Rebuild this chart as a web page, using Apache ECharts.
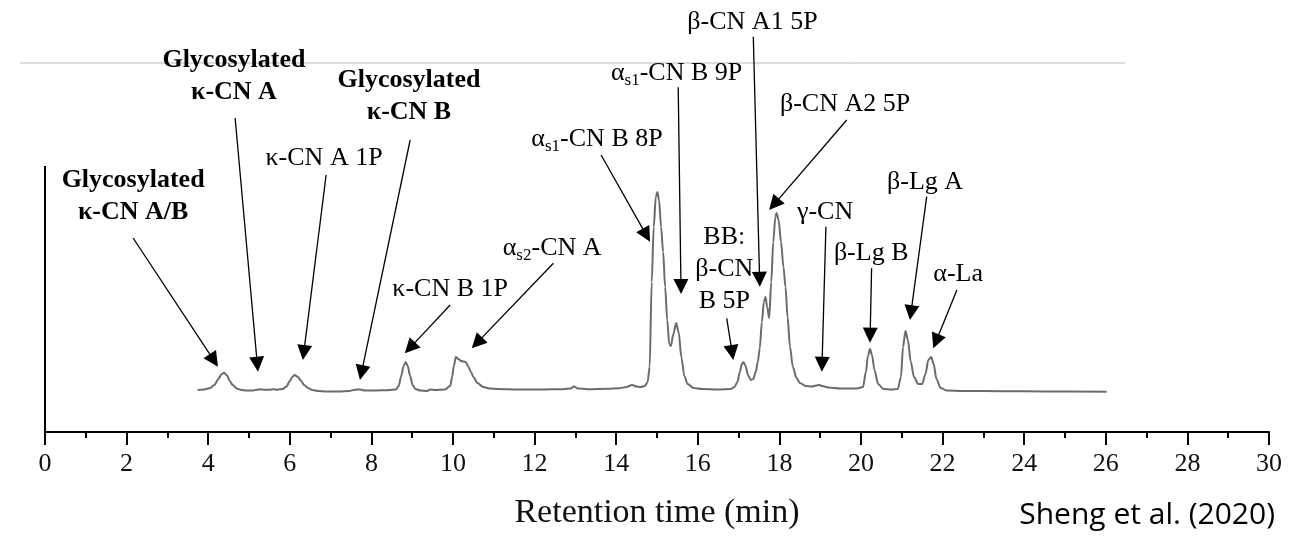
<!DOCTYPE html>
<html><head><meta charset="utf-8">
<script src="https://cdn.jsdelivr.net/npm/echarts@6/dist/echarts.min.js"></script>
<style>html,body{margin:0;padding:0;background:#fff}#c{width:1312px;height:539px}</style>
</head><body><div id="c"></div>
<script>
// Chromatogram trace: [retention time (min), detector signal (arb. units)]
const trace = [[3.74,42],[3.9,42.5],[4.05,44],[4.15,47],[4.25,53],[4.32,57.5],[4.39,59.3],[4.46,56.5],[4.53,51],[4.6,47],[4.7,43.5],[4.8,42.2],[4.95,41.5],[5.1,41.5],[5.2,42.3],[5.28,42.8],[5.38,42.3],[5.5,42.3],[5.6,42.8],[5.7,42.3],[5.82,43],[5.92,45.5],[6.0,51],[6.06,55],[6.12,57],[6.2,55],[6.28,51],[6.35,47],[6.45,44],[6.55,42],[6.7,41],[6.9,40.5],[7.2,40.5],[7.45,41],[7.6,42.3],[7.72,42.5],[7.85,41.5],[8.1,41.5],[8.4,41.8],[8.6,42.5],[8.67,46],[8.73,56],[8.79,66],[8.84,70],[8.89,66],[8.95,56],[9.01,47],[9.08,43],[9.2,41.5],[9.35,41],[9.45,42.5],[9.55,42],[9.8,42.5],[9.93,46],[9.98,55],[10.02,66],[10.07,75],[10.13,73],[10.2,71],[10.26,70.5],[10.31,70],[10.37,66],[10.44,60],[10.5,55],[10.6,49],[10.74,45],[10.9,43.5],[11.1,43],[11.6,42.5],[12.2,42.5],[12.7,42.8],[12.88,43.5],[12.97,45.5],[13.06,43.5],[13.3,42.8],[13.8,43.2],[14.07,43.7],[14.25,45],[14.39,47],[14.5,45.5],[14.6,45],[14.7,46],[14.77,50],[14.82,65],[14.87,150],[14.92,205],[14.97,235],[15.01,240],[15.05,232],[15.1,205],[15.15,180],[15.2,145],[15.25,112],[15.3,88],[15.34,86],[15.4,98],[15.47,109],[15.53,100],[15.6,74],[15.67,56],[15.75,48],[15.9,44],[16.1,43],[16.5,42.5],[16.8,43],[16.9,45],[16.97,50],[17.03,60],[17.08,68],[17.12,70],[17.17,66],[17.23,57],[17.3,52],[17.36,53],[17.42,60],[17.47,70],[17.52,84],[17.57,110],[17.62,130],[17.66,135],[17.7,125],[17.75,114],[17.8,150],[17.85,190],[17.9,215],[17.93,219],[17.98,212],[18.04,190],[18.1,165],[18.15,145],[18.2,115],[18.26,85],[18.33,65],[18.42,54],[18.5,49],[18.65,46],[18.8,45.5],[18.9,46.5],[18.97,47],[19.05,46],[19.2,44.5],[19.5,43.5],[19.9,43.5],[20.05,45],[20.12,60],[20.17,76],[20.22,83],[20.27,77],[20.33,62],[20.42,48],[20.55,43],[20.75,42.5],[20.9,43],[20.98,55],[21.03,85],[21.09,101],[21.15,92],[21.22,70],[21.3,55],[21.4,48],[21.5,48],[21.58,58],[21.65,72],[21.72,75],[21.78,68],[21.85,53],[21.95,44],[22.1,41.5],[22.5,41],[23.5,40.8],[24.5,40.5],[26.02,40.3]];

// Peak annotation texts (rich-text markup for bold / subscripts)
const peakLabels = [
  '{b|Glycosylated}\n{b|κ-CN A/B}',
  '{b|Glycosylated}\n{b|κ-CN A}',
  'κ-CN A 1P',
  '{b|Glycosylated}\n{b|κ-CN B}',
  'κ-CN B 1P',
  'α{s|s2}-CN A',
  'α{s|s1}-CN B 8P',
  'α{s|s1}-CN B 9P',
  'β-CN A1 5P',
  'β-CN A2 5P',
  'BB:\nβ-CN\nB 5P',
  'γ-CN',
  'β-Lg B',
  'β-Lg A',
  'α-La'
];
// Annotation anchors in data space [time, signal]
const labelAt = [[2.16,235.5],[4.63,356],[6.84,274],[8.92,336],[9.93,143],[12.43,184],[13.53,293],[15.48,359],[17.34,410],[19.61,328],[16.65,162.5],[19.12,220],[20.25,179],[21.57,250],[22.38,158]];
const arrowFrom = [[2.16,194],[4.66,314],[6.89,257],[8.95,292],[9.93,127],[12.46,168.7],[13.63,277],[15.52,344.7],[17.36,395.3],[19.65,312],[16.71,113.7],[19.14,205.3],[20.26,163.7],[21.61,235.3],[22.35,142]];
const arrowTip = [[4.24,65.3],[5.22,60.3],[6.32,72],[7.72,52],[8.82,78.7],[10.46,83.7],[14.83,190.3],[15.59,138],[17.52,145.3],[17.75,222],[16.87,72],[19.04,60.3],[20.22,89.3],[21.2,112],[21.77,83.7]];
// signal-axis line extent and light rule across the top of the figure (data space)
const signalAxis = [[0,0],[0,266]];
const topRule = [[-0.61,369],[26.47,369]];

const SERIF = '"Liberation Serif","Times New Roman",serif';
const AH = 15;

const chart = echarts.init(document.getElementById('c'), null, {renderer:'canvas'});

function baseOption(arrows, rule){
  const graphics = [{
    type:'text', right:37, top:500,
    style:{text:'Sheng et al. (2020)', font:'30px "Open Sans", sans-serif', fill:'#000'}
  }];
  if (rule) graphics.push({
    type:'line', silent:true,
    shape:{x1:rule[0][0], y1:rule[0][1], x2:rule[1][0], y2:rule[1][1]},
    style:{stroke:'#b8b8b8', lineWidth:1}
  });
  return {
    animation:false,
    backgroundColor:'#fff',
    grid:{left:45, right:43, top:0, bottom:107},
    xAxis:{
      type:'value', min:0, max:30, interval:2,
      axisLine:{lineStyle:{color:'#000', width:2}},
      axisTick:{length:13, lineStyle:{color:'#000', width:2}},
      minorTick:{show:true, splitNumber:2, length:6, lineStyle:{color:'#000', width:2}},
      splitLine:{show:false}, minorSplitLine:{show:false},
      axisLabel:{fontFamily:SERIF, fontSize:26, color:'#111', margin:19},
      name:'Retention time (min)', nameLocation:'middle', nameGap:64,
      nameTextStyle:{fontFamily:SERIF, fontSize:34, color:'#111'}
    },
    yAxis:{
      type:'value', min:0, max:432,
      axisLine:{show:false}, axisTick:{show:false}, axisLabel:{show:false}, splitLine:{show:false}
    },
    graphic:graphics,
    series:[
      {
        type:'line', data:trace, showSymbol:false, smooth:0.3, smoothMonotone:'x', clip:false,
        lineStyle:{color:'#6b6b6b', width:2}, silent:true
      },
      {
        type:'line', data:[], clip:false, silent:true,
        markLine:{
          silent:true, symbol:['none','none'], label:{show:false},
          lineStyle:{color:'#000', width:2, type:'solid'},
          data:[[{coord:signalAxis[0]},{coord:signalAxis[1]}]]
        }
      },
      {
        type:'line', data:[], clip:false, silent:true,
        markLine:{
          silent:true, symbol:['none','triangle'], symbolSize:AH, label:{show:false},
          lineStyle:{color:'#000', width:1.3, type:'solid', opacity:1},
          itemStyle:{color:'#000'},
          data:arrows
        },
        markPoint:{
          silent:true, symbol:'circle', symbolSize:0,
          itemStyle:{color:'transparent'},
          label:{
            show:true, position:'inside', color:'#000',
            fontFamily:SERIF, fontSize:26, lineHeight:32, align:'center', verticalAlign:'middle',
            rich:{
              b:{fontFamily:SERIF, fontSize:26, fontWeight:'bold', lineHeight:32, color:'#000'},
              s:{fontFamily:SERIF, fontSize:17, lineHeight:20, verticalAlign:'bottom', color:'#000'}
            }
          },
          data:labelAt.map((p,i)=>({coord:p, value:i, label:{formatter:peakLabels[i]}}))
        }
      }
    ]
  };
}

chart.setOption(baseOption([], null));
// pull each arrow's end back by half the head size so the triangle tip lands on the peak
const arrows = arrowFrom.map((f,i)=>{
  const p0 = chart.convertToPixel({gridIndex:0}, f);
  const p1 = chart.convertToPixel({gridIndex:0}, arrowTip[i]);
  const dx = p1[0]-p0[0], dy = p1[1]-p0[1], L = Math.hypot(dx,dy);
  const e = chart.convertFromPixel({gridIndex:0}, [p1[0]-dx/L*AH/2, p1[1]-dy/L*AH/2]);
  return [{coord:f},{coord:e}];
});
const rulePx = topRule.map(p => chart.convertToPixel({gridIndex:0}, p));
chart.setOption(baseOption(arrows, rulePx), true);
</script>
</body></html>
